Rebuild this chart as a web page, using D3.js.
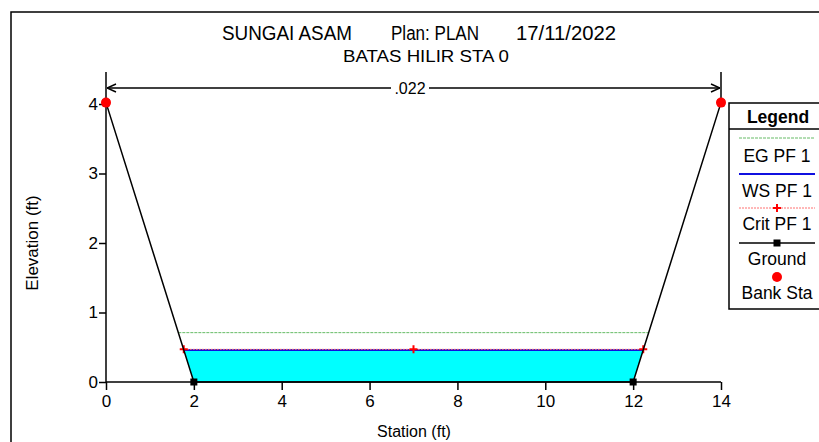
<!DOCTYPE html>
<html>
<head>
<meta charset="utf-8">
<script src="https://cdn.jsdelivr.net/npm/d3@7"></script>
<style>
body { margin:0; background:#fff; }
text { font-family: "Liberation Sans", Arial, sans-serif; }
</style>
</head>
<body>
<svg id="myGraph" width="819" height="442"></svg>
<script>
// data
var groundSta = [0, 2, 12, 14];
var groundElev = [4.02, 0, 0, 4.02];
var bankSta = [0, 14];
var bankElev = [4.02, 4.02];
var wsElev = 0.46;   // WS PF 1
var egElev = 0.71;   // EG PF 1
var critElev = 0.47; // Crit PF 1
var critSta = [1.77, 7, 12.23];
var nValue = [".022"];
var xTicks = [0, 2, 4, 6, 8, 10, 12, 14];
var yTicks = [0, 1, 2, 3, 4];
var legendNames = ["EG PF 1", "WS PF 1", "Crit PF 1", "Ground", "Bank Sta"];

var svg = d3.select("#myGraph");
var x = d3.scaleLinear().domain([0, 14]).range([106, 721]);
var y = d3.scaleLinear().domain([0, 4]).range([382, 104]);

// outer frame
svg.append("rect")
  .attr("x", 11).attr("y", 12).attr("width", 900).attr("height", 500)
  .attr("fill", "none").attr("stroke", "#000").attr("stroke-width", 1.5);

// titles
svg.append("text").attr("x", 287).attr("y", 40).attr("text-anchor", "middle")
  .attr("font-size", 20).attr("textLength", 130).attr("lengthAdjust", "spacingAndGlyphs")
  .text("SUNGAI ASAM");
svg.append("text").attr("x", 435).attr("y", 40).attr("text-anchor", "middle")
  .attr("font-size", 20).attr("textLength", 88).attr("lengthAdjust", "spacingAndGlyphs")
  .text("Plan: PLAN");
svg.append("text").attr("x", 566).attr("y", 40).attr("text-anchor", "middle")
  .attr("font-size", 20).attr("textLength", 100).attr("lengthAdjust", "spacingAndGlyphs")
  .text("17/11/2022");
svg.append("text").attr("x", 426).attr("y", 62).attr("text-anchor", "middle")
  .attr("font-size", 16).attr("textLength", 166).attr("lengthAdjust", "spacingAndGlyphs")
  .text("BATAS HILIR STA 0");

// water area between ground lines below WS
var leftEdge = groundSta[1] - (groundSta[1] - groundSta[0]) * wsElev / (groundElev[0] - groundElev[1]);
var rightEdge = groundSta[2] + (groundSta[3] - groundSta[2]) * wsElev / (groundElev[3] - groundElev[2]);
var water = [[leftEdge, wsElev], [groundSta[1], 0], [groundSta[2], 0], [rightEdge, wsElev]];
svg.append("path")
  .attr("d", d3.line().x(function(d){ return x(d[0]); }).y(function(d){ return y(d[1]); })(water) + "Z")
  .attr("fill", "#00FFFF");

// EG line
var egL = groundSta[1] - (groundSta[1] - groundSta[0]) * egElev / (groundElev[0] - groundElev[1]);
var egR = groundSta[2] + (groundSta[3] - groundSta[2]) * egElev / (groundElev[3] - groundElev[2]);
svg.append("line")
  .attr("x1", x(egL)).attr("x2", x(egR)).attr("y1", y(egElev)).attr("y2", y(egElev))
  .attr("stroke", "#66BB66").attr("stroke-width", 1).attr("stroke-dasharray", "3,1");

// WS line
svg.append("line")
  .attr("x1", x(leftEdge)).attr("x2", x(rightEdge)).attr("y1", y(wsElev)).attr("y2", y(wsElev))
  .attr("stroke", "#1010E0").attr("stroke-width", 2);

// crit line
svg.append("line")
  .attr("x1", x(critSta[0])).attr("x2", x(critSta[2])).attr("y1", y(critElev)).attr("y2", y(critElev))
  .attr("stroke", "#FF7070").attr("stroke-width", 1).attr("stroke-dasharray", "2,1");
svg.selectAll(".crit").data(critSta).enter().append("path")
  .attr("d", function(d){ var cx = x(d), cy = y(critElev); return "M" + (cx-4) + "," + cy + "H" + (cx+4) + "M" + cx + "," + (cy-4) + "V" + (cy+4); })
  .attr("stroke", "#FF0000").attr("stroke-width", 2);

// axes
svg.append("line").attr("x1", x(0)).attr("x2", x(0)).attr("y1", 72).attr("y2", y(0))
  .attr("stroke", "#000").attr("stroke-width", 1.5);
svg.append("line").attr("x1", x(0)).attr("x2", x(14)).attr("y1", y(0)).attr("y2", y(0))
  .attr("stroke", "#000").attr("stroke-width", 1.5);

var xg = svg.append("g").attr("transform", "translate(0," + y(0) + ")");
xg.call(d3.axisBottom(x).tickValues(d3.range(0, 14.01, 0.4)).tickSize(5).tickFormat(""));
xg.call(d3.axisBottom(x).tickValues(xTicks).tickSize(8).tickPadding(5).tickFormat(d3.format("d")));
xg.selectAll(".domain").remove();
xg.selectAll("text").attr("font-size", 17).attr("font-family", "Liberation Sans, Arial").attr("fill", "#000");
xg.selectAll("line").attr("stroke-width", 1.5);

var yg = svg.append("g").attr("transform", "translate(" + x(0) + ",0)");
yg.call(d3.axisLeft(y).tickValues(d3.range(0, 4.01, 0.2)).tickSize(5).tickFormat(""));
yg.call(d3.axisLeft(y).tickValues(yTicks).tickSize(7).tickPadding(1).tickFormat(d3.format("d")));
yg.selectAll(".domain").remove();
yg.selectAll("text").attr("font-size", 17).attr("font-family", "Liberation Sans, Arial").attr("fill", "#000");
yg.selectAll("line").attr("stroke-width", 1.5);

// axis titles
svg.append("text").attr("x", 414).attr("y", 437).attr("text-anchor", "middle")
  .attr("font-size", 16).text("Station (ft)");
svg.append("text").attr("transform", "translate(38,243) rotate(-90)").attr("text-anchor", "middle")
  .attr("font-size", 17).text("Elevation (ft)");

// n value dimension line
svg.append("defs").append("marker").attr("id", "arr")
  .attr("viewBox", "0 0 10 10").attr("refX", 10).attr("refY", 5)
  .attr("markerWidth", 10).attr("markerHeight", 10).attr("orient", "auto-start-reverse")
  .attr("markerUnits", "userSpaceOnUse")
  .append("path").attr("d", "M1,1L10,5L1,9").attr("fill", "none").attr("stroke", "#000").attr("stroke-width", 1.5);
svg.append("line").attr("x1", x(14)).attr("x2", x(14)).attr("y1", 72).attr("y2", y(bankElev[1]))
  .attr("stroke", "#000").attr("stroke-width", 1.5);
svg.append("line").attr("x1", x(0) + 1).attr("x2", x(14) - 1).attr("y1", 88).attr("y2", 88)
  .attr("stroke", "#000").attr("stroke-width", 1.5)
  .attr("marker-start", "url(#arr)").attr("marker-end", "url(#arr)");
svg.append("rect").attr("x", 391).attr("y", 80).attr("width", 38).attr("height", 16).attr("fill", "#fff");
svg.append("text").attr("x", 410).attr("y", 94).attr("text-anchor", "middle")
  .attr("font-size", 16).text(nValue[0]);

// ground line
var gpts = groundSta.map(function(s, i){ return [s, groundElev[i]]; });
svg.append("path")
  .attr("d", d3.line().x(function(d){ return x(d[0]); }).y(function(d){ return y(d[1]); })(gpts))
  .attr("fill", "none").attr("stroke", "#000").attr("stroke-width", 1.5);
svg.selectAll(".gpt").data(gpts).enter().append("rect")
  .attr("x", function(d){ return x(d[0]) - 3.5; }).attr("y", function(d){ return y(d[1]) - 3.5; })
  .attr("width", 7).attr("height", 7).attr("fill", "#000");

// bank stations
svg.selectAll(".bank").data(bankSta).enter().append("circle")
  .attr("cx", function(d){ return x(d); }).attr("cy", function(d, i){ return y(bankElev[i]); })
  .attr("r", 5).attr("fill", "#FF0000");

// legend
var lg = svg.append("g");
lg.append("rect").attr("x", 729).attr("y", 103).attr("width", 100).attr("height", 206)
  .attr("fill", "#fff").attr("stroke", "#000").attr("stroke-width", 1.5);
lg.append("text").attr("x", 778).attr("y", 123).attr("text-anchor", "middle")
  .attr("font-size", 17.5).attr("font-weight", "bold").text("Legend");
lg.append("line").attr("x1", 729).attr("x2", 819).attr("y1", 129).attr("y2", 129)
  .attr("stroke", "#000").attr("stroke-width", 1.5);

var symY = [138, 174, 208, 243, 277];
var txtY = [162, 197, 230, 265, 299];
lg.selectAll(".lt").data(legendNames).enter().append("text")
  .attr("x", 777).attr("y", function(d, i){ return txtY[i]; }).attr("text-anchor", "middle")
  .attr("font-size", 17.5).text(function(d){ return d; });
lg.append("line").attr("x1", 739).attr("x2", 815).attr("y1", symY[0]).attr("y2", symY[0])
  .attr("stroke", "#66BB66").attr("stroke-dasharray", "3,1");
lg.append("line").attr("x1", 739).attr("x2", 815).attr("y1", symY[1]).attr("y2", symY[1])
  .attr("stroke", "#1010E0").attr("stroke-width", 2);
lg.append("line").attr("x1", 739).attr("x2", 815).attr("y1", symY[2]).attr("y2", symY[2])
  .attr("stroke", "#FF7070").attr("stroke-dasharray", "2,1");
lg.append("path").attr("d", "M773," + symY[2] + "H781M777," + (symY[2]-4) + "V" + (symY[2]+4))
  .attr("stroke", "#FF0000").attr("stroke-width", 2);
lg.append("line").attr("x1", 739).attr("x2", 815).attr("y1", symY[3]).attr("y2", symY[3])
  .attr("stroke", "#000").attr("stroke-width", 1.5);
lg.append("rect").attr("x", 773.5).attr("y", symY[3] - 3.5).attr("width", 7).attr("height", 7).attr("fill", "#000");
lg.append("circle").attr("cx", 777).attr("cy", symY[4]).attr("r", 5).attr("fill", "#FF0000");
</script>
</body>
</html>
